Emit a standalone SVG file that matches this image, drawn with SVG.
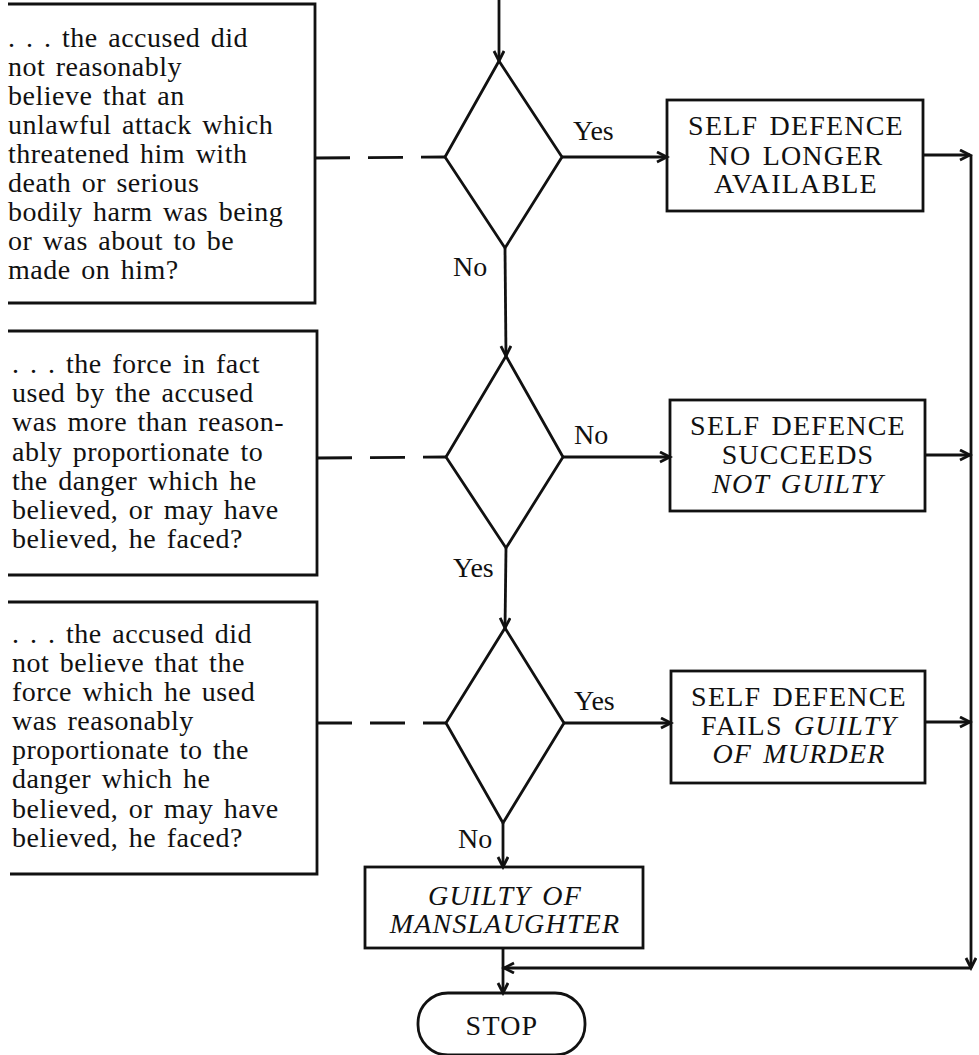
<svg xmlns="http://www.w3.org/2000/svg" width="979" height="1055" viewBox="0 0 979 1055">
<style>
.ln{fill:none;stroke:#111;stroke-width:2.8}
.dash{fill:none;stroke:#111;stroke-width:2.8;stroke-dasharray:35 18}
.q{font-family:"Liberation Serif","Times New Roman",serif;font-size:28px;fill:#111;word-spacing:3px;letter-spacing:0.5px}
.b{font-family:"Liberation Serif","Times New Roman",serif;font-size:28px;fill:#111;text-anchor:middle;letter-spacing:1.2px;word-spacing:3px}
.lab{font-family:"Liberation Serif","Times New Roman",serif;font-size:28px;fill:#111}
.it{font-style:italic}
</style>
<defs>
<marker id="ah" markerUnits="userSpaceOnUse" markerWidth="14" markerHeight="14" refX="11" refY="6" orient="auto">
<path d="M1,1 L11,6 L1,11" fill="none" stroke="#111" stroke-width="2.8"/>
</marker>
</defs>

<g id="q1">
<path class="ln" d="M8,4 H315 V303 H8"/>
<text class="q"><tspan x="8" y="47">. . . the accused did</tspan><tspan x="8" y="76">not reasonably</tspan><tspan x="8" y="105">believe that an</tspan><tspan x="8" y="134">unlawful attack which</tspan><tspan x="8" y="163">threatened him with</tspan><tspan x="8" y="192">death or serious</tspan><tspan x="8" y="221">bodily harm was being</tspan><tspan x="8" y="250">or was about to be</tspan><tspan x="8" y="279">made on him?</tspan></text>
</g>

<g id="q2">
<path class="ln" d="M8,331 H317 V575 H8"/>
<text class="q"><tspan x="12" y="373">. . . the force in fact</tspan><tspan x="12" y="402">used by the accused</tspan><tspan x="12" y="431">was more than reason-</tspan><tspan x="12" y="461">ably proportionate to</tspan><tspan x="12" y="490">the danger which he</tspan><tspan x="12" y="519">believed, or may have</tspan><tspan x="12" y="548">believed, he faced?</tspan></text>
</g>

<g id="q3">
<path class="ln" d="M8,602 H317 V874 H10"/>
<text class="q"><tspan x="12" y="643">. . . the accused did</tspan><tspan x="12" y="672">not believe that the</tspan><tspan x="12" y="701">force which he used</tspan><tspan x="12" y="730">was reasonably</tspan><tspan x="12" y="759">proportionate to the</tspan><tspan x="12" y="788">danger which he</tspan><tspan x="12" y="818">believed, or may have</tspan><tspan x="12" y="847">believed, he faced?</tspan></text>
</g>

<g id="d1"><path class="ln" d="M499,61 L562,157 L505,248 L445,157 Z"/></g>
<g id="d2"><path class="ln" d="M506,356 L563,457 L506,548 L446,457 Z"/></g>
<g id="d3"><path class="ln" d="M505,628 L564,723 L503,823 L446,723 Z"/></g>

<g id="r1">
<rect class="ln" x="667" y="100" width="256" height="111"/>
<text class="b"><tspan x="796" y="135">SELF DEFENCE</tspan><tspan x="796" y="165">NO LONGER</tspan><tspan x="796" y="193">AVAILABLE</tspan></text>
</g>

<g id="r2">
<rect class="ln" x="670" y="400" width="255" height="111"/>
<text class="b"><tspan x="798" y="435">SELF DEFENCE</tspan><tspan x="798" y="464">SUCCEEDS</tspan><tspan class="it" x="798" y="493">NOT GUILTY</tspan></text>
</g>

<g id="r3">
<rect class="ln" x="671" y="671" width="254" height="112"/>
<text class="b"><tspan x="799" y="706">SELF DEFENCE</tspan><tspan x="799" y="735">FAILS <tspan class="it">GUILTY</tspan></tspan><tspan class="it" x="799" y="763">OF MURDER</tspan></text>
</g>

<g id="manslaughter">
<rect class="ln" x="365" y="867" width="278" height="81"/>
<text class="b it"><tspan x="505" y="905">GUILTY OF</tspan><tspan x="505" y="933">MANSLAUGHTER</tspan></text>
</g>

<g id="stop">
<rect class="ln" x="418" y="993" width="167" height="62" rx="30" ry="30"/>
<text class="b" x="502" y="1035">STOP</text>
</g>

<g id="connectors">
<line class="ln" x1="499" y1="0" x2="499" y2="61" marker-end="url(#ah)"/>
<line class="ln" x1="505" y1="248" x2="506" y2="356" marker-end="url(#ah)"/>
<line class="ln" x1="506" y1="548" x2="505" y2="628" marker-end="url(#ah)"/>
<line class="ln" x1="503" y1="823" x2="503" y2="867" marker-end="url(#ah)"/>
<line class="ln" x1="562" y1="157" x2="667" y2="157" marker-end="url(#ah)"/>
<line class="ln" x1="563" y1="457" x2="670" y2="457" marker-end="url(#ah)"/>
<line class="ln" x1="564" y1="723" x2="671" y2="723" marker-end="url(#ah)"/>
<line class="ln" x1="923" y1="155" x2="970" y2="155" marker-end="url(#ah)"/>
<line class="ln" x1="925" y1="455" x2="970" y2="455" marker-end="url(#ah)"/>
<line class="ln" x1="925" y1="722" x2="970" y2="722" marker-end="url(#ah)"/>
<line class="ln" x1="971" y1="155" x2="971" y2="968" marker-end="url(#ah)"/>
<line class="ln" x1="971" y1="968" x2="504" y2="968" marker-end="url(#ah)"/>
<line class="ln" x1="503" y1="948" x2="503" y2="993" marker-end="url(#ah)"/>
<line class="dash" x1="315" y1="158" x2="445" y2="157"/>
<line class="dash" x1="317" y1="458" x2="446" y2="457"/>
<line class="dash" x1="317" y1="723" x2="446" y2="723"/>
<text class="lab" x="573" y="140">Yes</text>
<text class="lab" x="453" y="276">No</text>
<text class="lab" x="574" y="444">No</text>
<text class="lab" x="453" y="577">Yes</text>
<text class="lab" x="574" y="710">Yes</text>
<text class="lab" x="458" y="848">No</text>
</g>
</svg>
